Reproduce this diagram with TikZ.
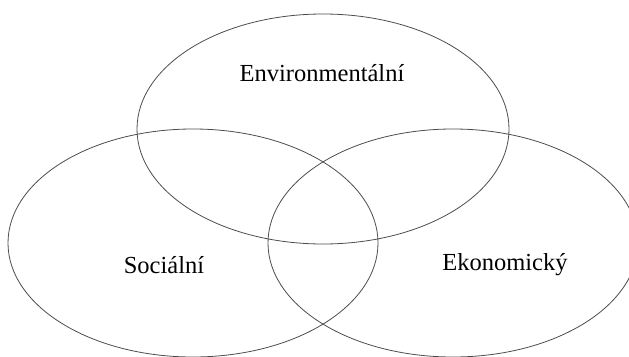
\documentclass[tikz,border=0pt]{standalone}
\usepackage{fontspec}
\setmainfont{Liberation Serif}
\usepackage{tikz}

\begin{document}
\begin{tikzpicture}[x = 1pt, y = -1pt, set/.style = {draw = black!70, line width = 0.8pt}, label/.style = {anchor = base, inner sep = 0pt, font = \fontsize{24.5pt}{28pt}\selectfont}]
    \useasboundingbox (0, 0) rectangle (629, 356);
    \clip (0, 0) rectangle (629, 356);
    \draw [set] (323, 129) ellipse [x radius = 186, y radius = 115];
    \draw [set] (193, 243) ellipse [x radius = 185, y radius = 114];
    \draw [set] (453, 243) ellipse [x radius = 185, y radius = 114];
    \node [label] (env) at (322, 81.5) {Environmentální};
    \node [label] (soc) at (164, 273.5) {Sociální};
    \node [label] (eko) at (505, 270) {Ekonomický};
\end{tikzpicture}
\end{document}
